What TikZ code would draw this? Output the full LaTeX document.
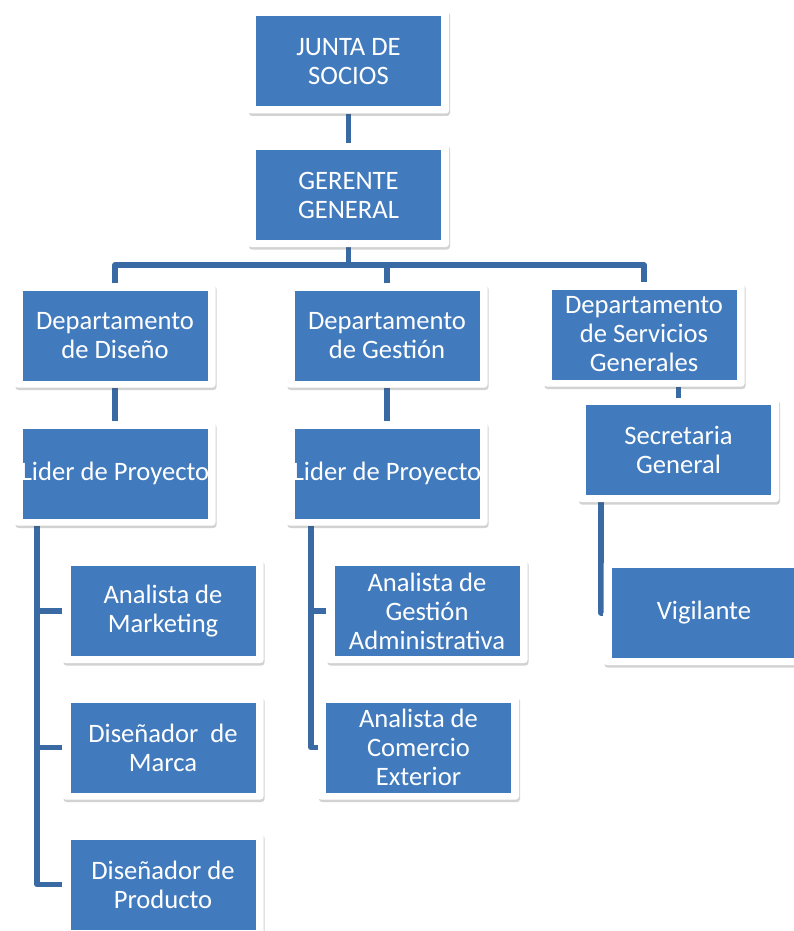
\documentclass[tikz,border=0pt]{standalone}
\usepackage{fontspec}
\setmainfont{Carlito}
\usetikzlibrary{shadows,backgrounds}
\definecolor{boxblue}{RGB}{66,123,189}
\definecolor{linkblue}{RGB}{57,106,164}
\tikzset{
 orgbox/.style={rectangle, rounded corners=3pt, fill=white, minimum width=201pt, minimum height=104pt,
   inner sep=0pt, align=center, text=white, font=\fontsize{26.6}{29}\selectfont,
   drop shadow={shadow xshift=1pt, shadow yshift=-2.5pt, opacity=0.25, fill=black!70},
   path picture={\fill[boxblue, sharp corners] ([shift={(8pt,7pt)}]path picture bounding box.south west) rectangle ([shift={(-8pt,-7pt)}]path picture bounding box.north east);}},
 conn/.style={draw=linkblue, line width=5.5pt, line join=round}
}
\begin{document}
\begin{tikzpicture}[x=1pt,y=-1pt]
\useasboundingbox (0,0) rectangle (794,931);
\clip (0,0) rectangle (794,931);
\node[orgbox] (js) at (348.5,61.5) {JUNTA DE\\SOCIOS};
\node[orgbox] (gg) at (348.5,195) {GERENTE\\GENERAL};
\node[orgbox] (dd) at (115,335.5) {Departamento\\de Diseño};
\node[orgbox] (dg) at (387,335.5) {Departamento\\de Gestión};
\node[orgbox] (ds) at (644,334.5) {Departamento\\de Servicios\\Generales};
\node[orgbox] (l1) at (115,473.5) {Lider de Proyecto};
\node[orgbox] (l2) at (387,473.5) {Lider de Proyecto};
\node[orgbox] (sec) at (678.5,450) {Secretaria\\General};
\node[orgbox] (am) at (163,611) {Analista de\\Marketing};
\node[orgbox] (dm) at (163,747.5) {Diseñador~ de\\Marca};
\node[orgbox] (dp) at (163,884.5) {Diseñador de\\Producto};
\node[orgbox] (ag) at (427,611) {Analista de\\Gestión\\Administrativa};
\node[orgbox] (ac) at (418.5,747.5) {Analista de\\Comercio\\Exterior};
\node[orgbox] (vig) at (704,613) {Vigilante};
\path (gg.south) ++(0,18) coordinate (bar);
\coordinate (lx) at (37,0);
\coordinate (mx) at (311,0);
\coordinate (rx) at (601,0);
\begin{scope}[on background layer]
\draw[conn] (js.south) -- (gg.north);
\draw[conn] (gg.south) -- (bar);
\draw[conn] (dd.north) |- (bar) -| (ds.north);
\draw[conn] (dg.north) -- (dg.north |- bar);
\draw[conn] (dd.south) -- (l1.north);
\draw[conn] (dg.south) -- (l2.north);
\draw[conn] (ds.south -| sec.north) -- (sec.north);
\draw[conn] (l1.south -| lx) |- (dp.west);
\draw[conn] (lx |- am.west) -- (am.west);
\draw[conn] (lx |- dm.west) -- (dm.west);
\draw[conn] (l2.south -| mx) |- (ac.west);
\draw[conn] (mx |- ag.west) -- (ag.west);
\draw[conn] (sec.south -| rx) |- (vig.west);
\end{scope}
\end{tikzpicture}
\end{document}
